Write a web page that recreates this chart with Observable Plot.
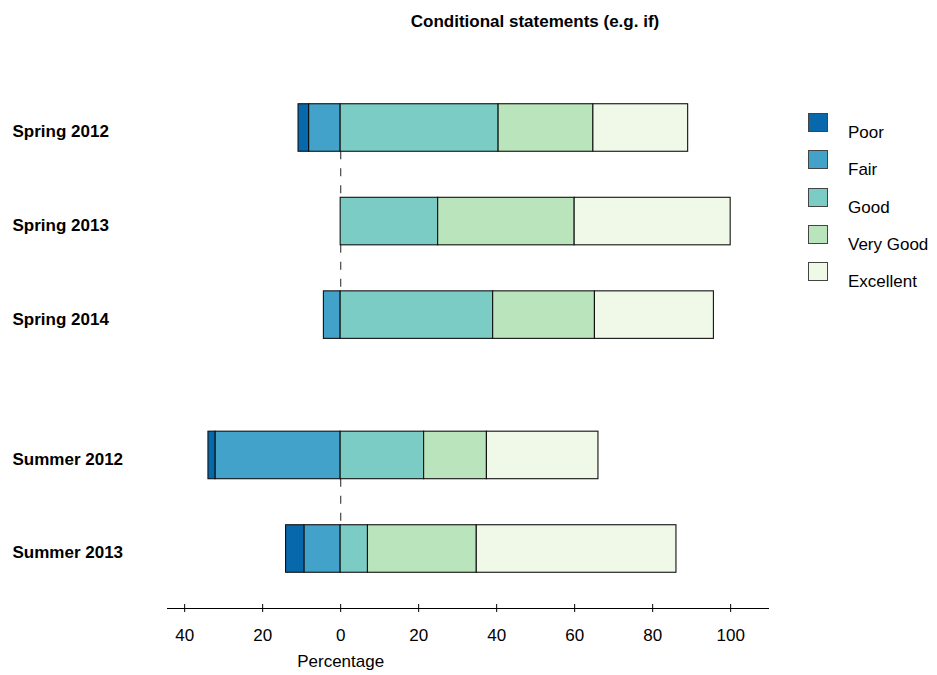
<!DOCTYPE html>
<html>
<head>
<meta charset="utf-8">
<script src="https://cdn.jsdelivr.net/npm/d3@7"></script>
<script src="https://cdn.jsdelivr.net/npm/@observablehq/plot@0.6"></script>
<style>
  html, body { margin: 0; padding: 0; background: #fff; }
  #wrap { position: relative; width: 937px; height: 675px; font-family: "Liberation Sans", Arial, sans-serif; }
  #title { position: absolute; left: 535px; top: 12px; transform: translateX(-50%); font-weight: bold; font-size: 17px; line-height: 20px; white-space: nowrap; color: #000; }
  #chart { position: absolute; left: 0; top: 0; }
  .lg-sq { position: absolute; width: 20px; height: 19px; border: 1px solid #444; box-sizing: border-box; }
  .lg-tx { position: absolute; font-size: 17px; line-height: 20px; white-space: nowrap; color: #000; }
</style>
</head>
<body>
<div id="wrap">
  <div id="chart"></div>
  <div id="title">Conditional statements (e.g. if)</div>
  <div id="legend"></div>
</div>
<script>
// ---- data ----
const terms = ["Spring 2012", "Spring 2013", "Spring 2014", "Summer 2012", "Summer 2013"];
const groups = ["Spring", "Spring", "Spring", "Summer", "Summer"];
const levels = ["Poor", "Fair", "Good", "Very Good", "Excellent"];
const levelColors = ["#0868ac", "#43a2ca", "#7bccc4", "#bae4bc", "#f0f9e8"];
const poor = [2.7, 0, 0, 1.8, 4.7];
const fair = [8.1, 0, 4.3, 32.1, 9.3];
const good = [40.5, 25.0, 39.1, 21.4, 7.0];
const veryGood = [24.3, 35.0, 26.1, 16.1, 27.9];
const excellent = [24.3, 40.0, 30.5, 28.6, 51.2];
const xTicks = [-40, -20, 0, 20, 40, 60, 80, 100];

// ---- derived ----
const values = {"Poor": poor, "Fair": fair, "Good": good, "Very Good": veryGood, "Excellent": excellent};
let p = 0;
const rowPos = terms.map((t, i) => { if (i > 0) p += groups[i] !== groups[i - 1] ? 1.5 : 1; return p; });
const half = 0.254;

const segs = [];
terms.forEach((t, i) => {
  // negatives: Fair closest to zero, then Poor
  let neg = 0;
  for (const lv of ["Fair", "Poor"]) {
    const v = values[lv][i];
    if (v > 0) segs.push({term: t, level: lv, x1: neg - v, x2: neg, y1: rowPos[i] - half, y2: rowPos[i] + half});
    neg -= v;
  }
  let pos = 0;
  for (const lv of ["Good", "Very Good", "Excellent"]) {
    const v = values[lv][i];
    if (v > 0) segs.push({term: t, level: lv, x1: pos, x2: pos + v, y1: rowPos[i] - half, y2: rowPos[i] + half});
    pos += v;
  }
});

const dashes = [];
for (let i = 0; i < terms.length - 1; i++) {
  if (groups[i] === groups[i + 1]) dashes.push({y1: rowPos[i] + half, y2: rowPos[i + 1] - half});
}

const chart = Plot.plot({
  width: 937,
  height: 675,
  marginLeft: 167,
  marginRight: 169,
  marginTop: 40,
  marginBottom: 67,
  x: {domain: [-44.4, 109.7]},
  y: {domain: [0, 4.5], range: [127.5, 548.5], axis: null},
  color: {domain: levels, range: levelColors},
  style: {fontFamily: "'Liberation Sans', Arial, sans-serif", fontSize: "17px", background: "#fff", color: "#000"},
  marks: [
    Plot.ruleX(dashes, {x: 0, y1: "y1", y2: "y2", stroke: "#555", strokeWidth: 1.3, strokeDasharray: "8,9"}),
    Plot.rectX(segs, {x1: "x1", x2: "x2", y1: "y1", y2: "y2", fill: "level", stroke: "#111", strokeWidth: 1.1}),
    Plot.text(terms, {y: (d, i) => rowPos[i], text: d => d, frameAnchor: "left", textAnchor: "start", dx: -155, dy: 4, fontWeight: "bold", fontSize: 17, fill: "#000"}),
    Plot.frame({anchor: "bottom", stroke: "#000"}),
    Plot.axisX({ticks: xTicks, tickSize: 8, dy: -4, tickFormat: () => "", label: null, stroke: "#000"}),
    Plot.axisX({ticks: xTicks, tickSize: 0, tickPadding: 20, tickFormat: d => Math.abs(d), label: null, fontSize: 17, fill: "#000"}),
    Plot.text(["Percentage"], {x: 0, frameAnchor: "bottom", dy: 58, text: d => d, fontSize: 17, fill: "#000"})
  ]
});
document.getElementById("chart").appendChild(chart);

// ---- legend ----
const legend = document.getElementById("legend");
levels.forEach((lv, i) => {
  const top = 113 + i * 37.3;
  const sq = document.createElement("div");
  sq.className = "lg-sq";
  sq.style.left = "808px";
  sq.style.top = top + "px";
  sq.style.background = levelColors[i];
  legend.appendChild(sq);
  const tx = document.createElement("div");
  tx.className = "lg-tx";
  tx.style.left = "848px";
  tx.style.top = (top + 10) + "px";
  tx.textContent = lv;
  legend.appendChild(tx);
});
</script>
</body>
</html>
